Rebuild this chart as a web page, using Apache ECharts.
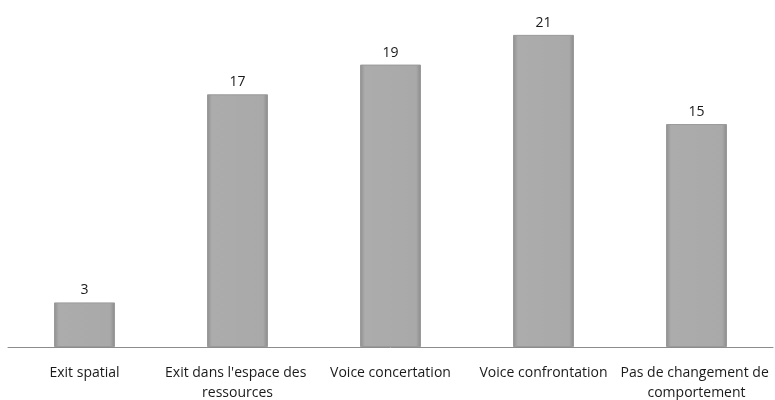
<!DOCTYPE html>
<html><head><meta charset="utf-8">
<script src="https://cdn.jsdelivr.net/npm/echarts@6/dist/echarts.min.js"></script>
<style>html,body{margin:0;padding:0;background:#fff}#c{width:775px;height:400px}</style>
</head><body><div id="c"></div>
<script>
const categories = ["Exit spatial", "Exit dans l'espace des ressources", "Voice concertation", "Voice confrontation", "Pas de changement de comportement"];
const values = [3, 17, 19, 21, 15];

const chart = echarts.init(document.getElementById('c'), null, {renderer: 'canvas'});
chart.setOption({
  animation: false,
  grid: {left: 8, right: 2, top: 20, bottom: 53, outerBoundsMode: 'none', containLabel: false},
  xAxis: {
    type: 'category',
    data: categories,
    axisLine: {lineStyle: {color: '#8c8c8c', width: 1}},
    axisTick: {show: false},
    axisLabel: {
      interval: 0, width: 158, overflow: 'break', margin: 16, lineHeight: 20,
      color: '#1a1a1a', fontFamily: 'Open Sans', fontSize: 14
    }
  },
  yAxis: {type: 'value', min: 0, max: 22, show: false, splitLine: {show: false}},
  series: [{
    type: 'bar',
    data: values,
    barWidth: 61,
    itemStyle: {
      color: new echarts.graphic.LinearGradient(0, 0, 1, 0, [
        {offset: 0, color: '#8e8e8e'},
        {offset: 0.08, color: '#acacac'},
        {offset: 0.92, color: '#a9a9a9'},
        {offset: 1, color: '#8a8a8a'}
      ]),
      borderColor: '#9a9a9a', borderWidth: 1
    },
    label: {
      show: true, position: 'top', distance: 5,
      color: '#1a1a1a', fontFamily: 'Open Sans', fontSize: 14
    }
  }]
});
</script></body></html>
